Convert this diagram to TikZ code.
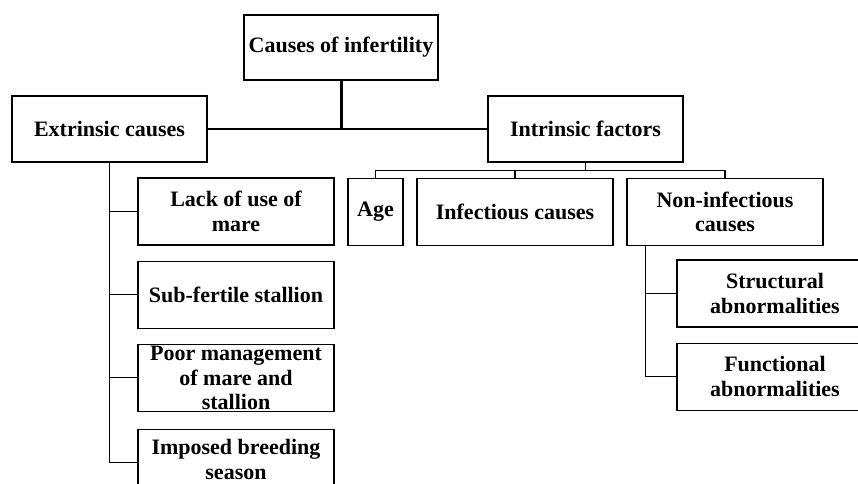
\documentclass[tikz,border=0pt]{standalone}
\usepackage{fontspec}
\setmainfont{Liberation Serif}
\usepackage{tikz}
\usetikzlibrary{positioning}

\begin{document}
\begin{tikzpicture}[
    x=1pt, y=-1pt,
    box/.style={draw, rectangle, line width=1.2pt, minimum width=196pt, minimum height=67pt, inner sep=0pt, align=center, font=\bfseries\fontsize{22}{24.5}\selectfont},
    line/.style={draw, line width=1.1pt},
    trunk/.style={draw, line width=3pt}
]
    \clip (0,0) rectangle (858,483);

    % Nodes
    \node[box, minimum width=194pt, minimum height=65pt] (root) at (341,47.5) {Causes of infertility};
    \node[box, minimum width=195pt, minimum height=66pt] (extr) at (109.5,129) {Extrinsic causes};
    \node[box, minimum width=195pt, minimum height=66pt] (intr) at (585.5,129) {Intrinsic factors};

    \node[box] (lack) at (236,211.5) {Lack of use of\\mare};
    \node[box, below=15pt of lack] (sub) {Sub-fertile stallion};
    \node[box, below=15pt of sub] (poor) {Poor management\\of mare and\\stallion};
    \node[box, below=17pt of poor, minimum height=60pt] (imposed) {Imposed breeding\\season};

    \node[box, minimum width=55pt] (age) at (375.5,212) {Age};
    \node[box] (infect) at (515,212) {Infectious causes};
    \node[box] (noninf) at (725,212) {Non-infectious\\causes};

    \node[box] (struct) at (775,293.5) {Structural\\abnormalities};
    \node[box, below=15pt of struct] (funct) {Functional\\abnormalities};

    % Connections
    \draw[trunk] (root.south) -- (root.south |- extr.east);
    \draw[line] (extr.east) -- (intr.west);

    \draw[line] (extr.south) |- ([yshift=-3pt]imposed.west);
    \draw[line] (extr.south |- lack.west) -- (lack.west);
    \draw[line] (extr.south |- sub.west) -- (sub.west);
    \draw[line] (extr.south |- poor.west) -- (poor.west);

    \draw[line] (intr.south) -- ++(0,8) -| (age.north);
    \draw[line] (intr.south) -- ++(0,8) -| (noninf.north);
    \draw[line] (infect.north) -- ++(0,-8);

    \draw[line] ([xshift=19pt]noninf.south west) |- (funct.west);
    \draw[line] ([xshift=19pt]noninf.south west |- struct.west) -- (struct.west);
\end{tikzpicture}
\end{document}
